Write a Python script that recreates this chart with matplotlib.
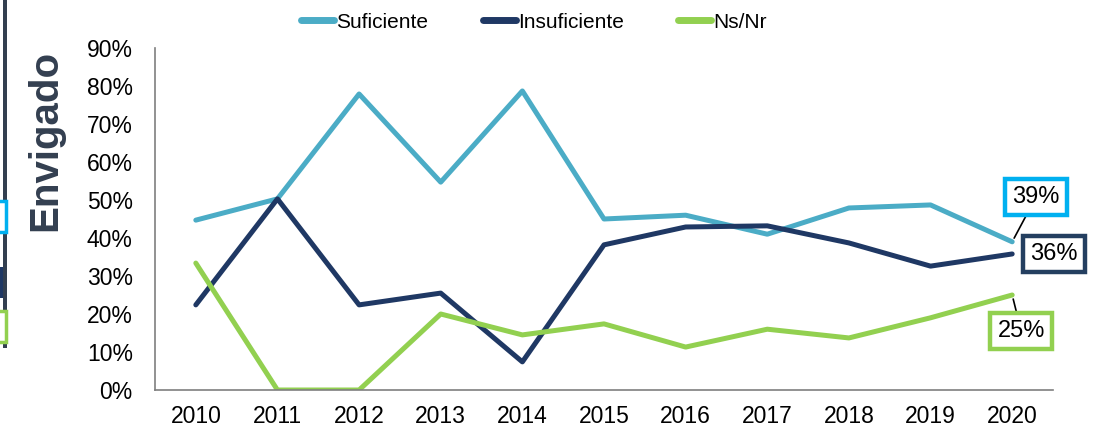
import matplotlib
matplotlib.use("Agg")
import matplotlib.pyplot as plt
from matplotlib.patches import Rectangle
from matplotlib.lines import Line2D

years = ["2010", "2011", "2012", "2013", "2014", "2015", "2016", "2017", "2018", "2019", "2020"]
suficiente = [44.7, 50.3, 77.9, 54.7, 78.7, 45.0, 46.0, 41.0, 47.9, 48.7, 39.0]
insuficiente = [22.4, 50.3, 22.4, 25.5, 7.4, 38.2, 42.9, 43.2, 38.7, 32.6, 35.8]
nsnr = [33.4, 0.0, 0.0, 20.0, 14.5, 17.4, 11.3, 16.0, 13.7, 19.0, 25.0]
yticks = [0, 10, 20, 30, 40, 50, 60, 70, 80, 90]

c_suf = "#4BACC6"
c_ins = "#1F3864"
c_ns = "#92D050"

plt.rcParams['font.family'] = ['Liberation Sans', 'DejaVu Sans']

fig = plt.figure(figsize=(10.97, 4.30), dpi=100)
ax = fig.add_axes([155/1097, 40/430, (1053-155)/1097, (390-48)/430])

x = list(range(len(years)))
lw = 3.6
ax.plot(x, suficiente, color=c_suf, lw=lw, solid_capstyle='round', label="Suficiente")
ax.plot(x, insuficiente, color=c_ins, lw=lw, solid_capstyle='round', label="Insuficiente")
ax.plot(x, nsnr, color=c_ns, lw=lw, solid_capstyle='round', label="Ns/Nr")

ax.set_xlim(-0.5, len(years) - 0.5)
ax.set_ylim(0, 90)
ax.set_yticks(yticks)
ax.set_yticklabels([f"{v}%" for v in yticks])
ax.set_xticks(x)
ax.set_xticklabels(years)
ax.tick_params(axis='both', length=0, labelsize=16.5)
ax.tick_params(axis='y', pad=16)
ax.tick_params(axis='x', pad=11)
for s in ["top", "right"]:
    ax.spines[s].set_visible(False)
for s in ["left", "bottom"]:
    ax.spines[s].set_color("#7F7F7F")
    ax.spines[s].set_linewidth(1.2)

# data labels
last = len(years) - 1
def label(val, color, dx, dy, leader=True):
    kw = {}
    if leader:
        kw['arrowprops'] = dict(arrowstyle='-', color='black', lw=1.2, shrinkA=0, shrinkB=3)
    ax.annotate(f"{val:.0f}%", xy=(last, val), xytext=(dx, dy), textcoords='offset pixels',
                ha='center', va='center', fontsize=17,
                bbox=dict(boxstyle='square,pad=0.3', fc='white', ec=color, lw=3.2), **kw)

label(suficiente[-1], "#00B0F0", 24, 45)
label(insuficiente[-1], "#243F60", 42, 0, leader=False)
label(nsnr[-1], c_ns, 9, -36)

# legend
handles = [Line2D([0], [0], color=c, lw=5, solid_capstyle='round') for c in (c_suf, c_ins, c_ns)]
leg = fig.legend(handles, ["Suficiente", "Insuficiente", "Ns/Nr"], loc='center',
                 bbox_to_anchor=(534/1097, 1 - 22/430), ncol=3, frameon=False,
                 fontsize=15, handlelength=1.6, handletextpad=0.1, columnspacing=2.6)

# side title
fig.text(45/1097, 1 - 140/430, "Envigado", rotation=90, ha='center', va='center',
         fontsize=29, fontweight='bold', color="#333F50")

# left-edge decorations (cropped from neighbouring panel)
fig.add_artist(Rectangle((3/1097, 1 - 348/430), 4/1097, 348/430, transform=fig.transFigure,
                         fc="#333F50", ec='none'))
fig.add_artist(Rectangle((-10/1097, 1 - 232/430), 16/1097, 31/430, transform=fig.transFigure,
                         fc='white', ec="#00B0F0", lw=2.5))
fig.add_artist(Rectangle((-10/1097, 1 - 342/430), 16/1097, 31/430, transform=fig.transFigure,
                         fc='white', ec=c_ns, lw=2.5))
fig.add_artist(Rectangle((0/1097, 1 - 298/430), 3/1097, 31/430, transform=fig.transFigure,
                         fc=c_ins, ec='none'))

fig.savefig("out.png", dpi=100)
